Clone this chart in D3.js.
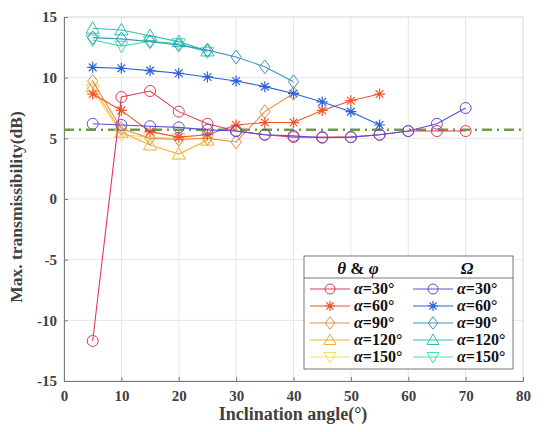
<!DOCTYPE html>
<html><head><meta charset="utf-8">
<script src="https://cdn.jsdelivr.net/npm/d3@7"></script>
<style>
body{margin:0;background:#fff;}
text{font-family:"Liberation Serif","DejaVu Serif",serif;font-weight:bold;}
</style></head>
<body>
<svg id="c" width="546" height="432"></svg>
<script>
// ---- data ----
const alphas = ["30°","60°","90°","120°","150°"];
const xTicks = [0,10,20,30,40,50,60,70,80];
const yTicks = [-15,-10,-5,0,5,10,15];
const refLine = 5.7;

// theta & phi
const tpX30 = [5,10,15,20,25,30,35,40,45,50,55,60,65,70];
const tpY30 = [-11.7,8.4,8.9,7.2,6.2,5.6,5.3,5.1,5.1,5.1,5.3,5.6,5.6,5.6];
const tpX60 = [5,10,15,20,25,30,35,40,45,50,55];
const tpY60 = [8.65,7.3,5.55,5.1,5.3,6.1,6.3,6.3,7.3,8.1,8.65];
const tpX90 = [5,10,15,20,25,30,35,40];
const tpY90 = [9.7,5.8,5.0,4.9,5.0,4.7,7.2,8.7];
const tpX120 = [5,10,15,20,25];
const tpY120 = [9.25,5.5,4.45,3.7,4.85];
const tpX150 = [5,10,15,20,25];
const tpY150 = [9.0,5.3,5.1,5.0,5.0];
// Omega
const omX30 = [5,10,15,20,25,30,35,40,45,50,55,60,65,70];
const omY30 = [6.2,6.1,6.0,5.9,5.7,5.6,5.3,5.2,5.05,5.1,5.3,5.6,6.2,7.5];
const omX60 = [5,10,15,20,25,30,35,40,45,50,55];
const omY60 = [10.85,10.77,10.58,10.36,10.06,9.73,9.26,8.7,8.0,7.2,6.1];
const omX90 = [5,10,15,20,25,30,35,40];
const omY90 = [13.3,13.2,12.97,12.7,12.27,11.7,10.9,9.67];
const omX120 = [5,10,15,20,25];
const omY120 = [14.07,13.93,13.46,12.97,12.2];
const omX150 = [5,10,15,20,25];
const omY150 = [13.1,12.6,13.0,12.8,12.1];

const tpColors = ["#e33b52","#f2552c","#e0904c","#f0b232","#f6dc62"];
const omColors = ["#5b4fd6","#2b62dc","#3d96bf","#2fc0b0","#3fe3a4"];
const shapes = ["circle","star","diamond","tri","trid"];

const series = [
  {x:tpX30,y:tpY30},{x:tpX60,y:tpY60},{x:tpX90,y:tpY90},{x:tpX120,y:tpY120},{x:tpX150,y:tpY150}
].map((s,i)=>({...s,color:tpColors[i],shape:shapes[i]})).concat([
  {x:omX30,y:omY30},{x:omX60,y:omY60},{x:omX90,y:omY90},{x:omX120,y:omY120},{x:omX150,y:omY150}
].map((s,i)=>({...s,color:omColors[i],shape:shapes[i]})));

// ---- chart ----
const svg = d3.select("#c");
const L=64,R=523,T=17,B=381;
const x = d3.scaleLinear().domain([0,80]).range([L,R]);
const y = d3.scaleLinear().domain([-15,15]).range([B,T]);

// grid
svg.append("g").selectAll("line").data(xTicks).join("line")
  .attr("x1",d=>x(d)).attr("x2",d=>x(d)).attr("y1",T).attr("y2",B)
  .attr("stroke","#e6e6e6").attr("stroke-width",1);
svg.append("g").selectAll("line").data(yTicks).join("line")
  .attr("y1",d=>y(d)).attr("y2",d=>y(d)).attr("x1",L).attr("x2",R)
  .attr("stroke","#e6e6e6").attr("stroke-width",1);
// frame
svg.append("rect").attr("x",L).attr("y",T).attr("width",R-L).attr("height",B-T)
  .attr("fill","none").attr("stroke","#e0e0e0");

// axes
const fmt = d => String(d);
const xa = svg.append("g").attr("transform",`translate(0,${B})`)
  .call(d3.axisBottom(x).tickValues(xTicks).tickFormat(fmt).tickSize(-4).tickPadding(9));
const ya = svg.append("g").attr("transform",`translate(${L},0)`)
  .call(d3.axisLeft(y).tickValues(yTicks).tickFormat(fmt).tickSize(-4).tickPadding(7));
[xa,ya].forEach(a=>{
  a.select(".domain").attr("stroke","#7a7a7a");
  a.selectAll(".tick line").attr("stroke","#7a7a7a");
  a.selectAll("text").attr("font-size",15).attr("fill","#404040")
   .attr("font-family","'Liberation Serif',serif").attr("font-weight","bold");
});

// reference dash-dot line
svg.append("line").attr("x1",L).attr("x2",R).attr("y1",y(refLine)).attr("y2",y(refLine))
  .attr("stroke","#6f9a4a").attr("stroke-width",2.5).attr("stroke-dasharray","10,5,2,5");

// markers
function marker(g, shape, cx, cy, color, r){
  r = r||5;
  if(shape==="circle"){
    g.append("circle").attr("cx",cx).attr("cy",cy).attr("r",r).attr("fill","none").attr("stroke",color).attr("stroke-width",1);
  } else if(shape==="star"){
    const p=[];
    for(let k=0;k<4;k++){const a=k*Math.PI/4; p.push(`M${cx-r*Math.cos(a)},${cy-r*Math.sin(a)}L${cx+r*Math.cos(a)},${cy+r*Math.sin(a)}`);}
    g.append("path").attr("d",p.join("")).attr("stroke",color).attr("stroke-width",1.2).attr("fill","none");
  } else if(shape==="diamond"){
    const s=r*1.25;
    g.append("path").attr("d",`M${cx},${cy-s}L${cx+s*0.75},${cy}L${cx},${cy+s}L${cx-s*0.75},${cy}Z`).attr("fill","none").attr("stroke",color);
  } else if(shape==="tri"){
    const s=r*1.2;
    g.append("path").attr("d",`M${cx},${cy-s}L${cx+s},${cy+s*0.75}L${cx-s},${cy+s*0.75}Z`).attr("fill","none").attr("stroke",color);
  } else {
    const s=r*1.2;
    g.append("path").attr("d",`M${cx},${cy+s}L${cx+s},${cy-s*0.75}L${cx-s},${cy-s*0.75}Z`).attr("fill","none").attr("stroke",color);
  }
}

const line = d3.line().x(d=>x(d[0])).y(d=>y(d[1]));
const order = [4,3,2,1,0,9,8,7,6,5];
order.forEach(i=>{
  const s = series[i];
  const pts = s.x.map((v,j)=>[v,s.y[j]]);
  const g = svg.append("g");
  g.append("path").attr("d",line(pts)).attr("fill","none").attr("stroke",s.color).attr("stroke-width",1.1);
  pts.forEach(p=>marker(g,s.shape,x(p[0]),y(p[1]),s.color,5.5));
});

// axis titles
svg.append("text").attr("x",293).attr("y",420).attr("text-anchor","middle")
  .attr("font-size",18).attr("fill","#404040").text("Inclination angle(°)");
svg.append("text").attr("transform",`translate(22,${(T+B)/2+8}) rotate(-90)`).attr("text-anchor","middle")
  .attr("font-size",17.5).attr("fill","#404040").text("Max. transmissibility(dB)");

// legend
const lg = svg.append("g");
lg.append("rect").attr("x",304).attr("y",256).attr("width",209).attr("height",113)
  .attr("fill","#fff").attr("stroke","#555").attr("stroke-width",0.8);
lg.append("line").attr("x1",304).attr("x2",513).attr("y1",278).attr("y2",278).attr("stroke","#555").attr("stroke-width",0.8);
const h1 = lg.append("text").attr("x",358).attr("y",274).attr("text-anchor","middle").attr("font-size",17).attr("fill","#111");
h1.append("tspan").attr("font-style","italic").text("θ");
h1.append("tspan").text(" & ");
h1.append("tspan").attr("font-style","italic").text("φ");
lg.append("text").attr("x",467).attr("y",274).attr("text-anchor","middle").attr("font-size",17).attr("fill","#111")
  .attr("font-style","italic").text("Ω");
const rowY = [289,306,323,340,357];
alphas.forEach((a,i)=>{
  [[310,tpColors[i]],[413,omColors[i]]].forEach(([lx,c])=>{
    lg.append("line").attr("x1",lx).attr("x2",lx+40).attr("y1",rowY[i]).attr("y2",rowY[i]).attr("stroke",c).attr("stroke-width",1);
    marker(lg,shapes[i],lx+20,rowY[i],c,5);
    const t = lg.append("text").attr("x",lx+44).attr("y",rowY[i]+5).attr("font-size",16).attr("fill","#111");
    t.append("tspan").attr("font-style","italic").text("α");
    t.append("tspan").text("="+a);
  });
});
</script>
</body></html>
